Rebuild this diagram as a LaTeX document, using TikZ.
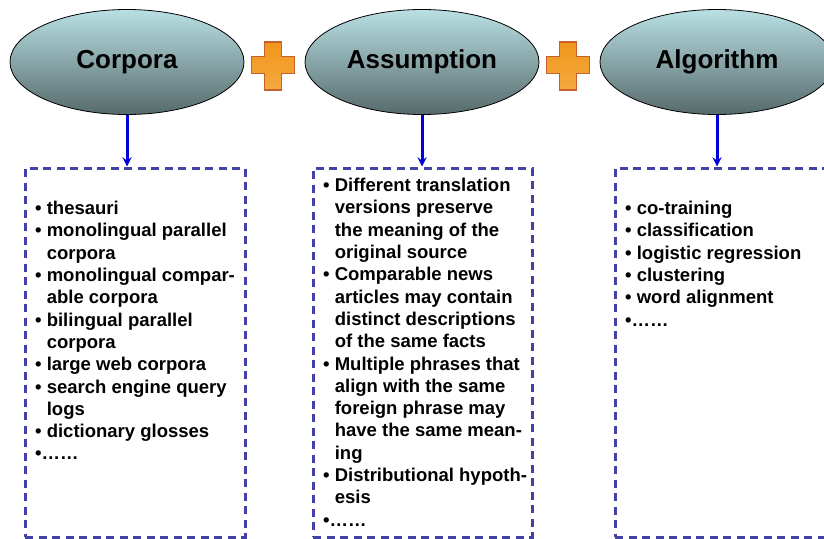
\documentclass[tikz,border=0pt]{standalone}
\usepackage{fontspec}
\setmainfont{Liberation Sans}
\usetikzlibrary{shapes.geometric,positioning}
\tikzset{>=stealth}
\definecolor{ovaltop}{HTML}{B9E0E4}
\definecolor{ovalbot}{HTML}{566A6B}
\definecolor{boxline}{HTML}{4242A4}
\definecolor{arrblue}{HTML}{0000D8}
\definecolor{plustop}{HTML}{F0961C}
\definecolor{plusmid}{HTML}{FFF0C0}
\definecolor{plusbot}{HTML}{F4AA40}
\definecolor{plusline}{HTML}{C8602C}
\tikzset{
  oval/.style={ellipse,draw=black,line width=0.8pt,minimum width=234pt,minimum height=105pt,
    inner sep=0pt,top color=ovaltop,bottom color=ovalbot,font=\fontsize{26}{30}\selectfont\bfseries},
  listbox/.style={draw=boxline,line width=3pt,dash pattern=on 8pt off 5.5pt,minimum height=369pt,inner sep=0pt},
  listtext/.style={anchor=north west,align=left,inner sep=0pt,font=\fontsize{18.5}{22.3}\selectfont\bfseries},
  link/.style={->,draw=arrblue,line width=3pt}
}
\newcommand{\bl}{\textbullet\ }
\newcommand{\ct}{\phantom{\textbullet\ }}

\begin{document}
\begin{tikzpicture}[x=1pt,y=-1pt]
\clip (0,0) rectangle (824,538);

  \node[oval] (corpora) at (127,62) {Corpora};
  \node[oval] (assume) at (422,62) {Assumption};
  \node[oval] (algo) at (717,62) {Algorithm};

  % plus signs between the ovals
  \foreach \px in {273,568}
    \draw[plusline,line width=1.2pt,top color=plustop,middle color=plusmid,bottom color=plusbot]
      (\px-8.5,42)--(\px+8.5,42)--(\px+8.5,56.5)--(\px+21.5,56.5)--(\px+21.5,73.5)--(\px+8.5,73.5)--(\px+8.5,90)
      --(\px-8.5,90)--(\px-8.5,73.5)--(\px-21.5,73.5)--(\px-21.5,56.5)--(\px-8.5,56.5)--cycle;

  \node[listbox,minimum width=220pt] (corpbox) at (135,352.5) {};
  \node[listbox,minimum width=219pt] (assumebox) at (422.5,352.5) {};
  \node[listbox,minimum width=220pt] (algobox) at (725,352.5) {};

  \draw[link] (corpora.south) -- (corpora.south |- corpbox.north);
  \draw[link] (assume.south) -- (assume.south |- assumebox.north);
  \draw[link] (algo.south) -- (algo.south |- algobox.north);

  \node[listtext] (corptext) at (35,201) {\bl thesauri\\ \bl monolingual parallel\\ \ct corpora\\
    \bl monolingual compar-\\ \ct able corpora\\ \bl bilingual parallel\\ \ct corpora\\
    \bl large web corpora\\ \bl search engine query\\ \ct logs\\ \bl dictionary glosses\\ \textbullet……};
  \node[listtext] (assumetext) at (323,178) {\bl Different translation\\ \ct versions preserve\\
    \ct the meaning of the\\ \ct original source\\ \bl Comparable news\\ \ct articles may contain\\
    \ct distinct descriptions\\ \ct of the same facts\\ \bl Multiple phrases that\\ \ct align with the same\\
    \ct foreign phrase may\\ \ct have the same mean-\\ \ct ing\\ \bl Distributional hypoth-\\ \ct esis\\ \textbullet……};
  \node[listtext] (algotext) at (625,201) {\bl co-training\\ \bl classification\\ \bl logistic regression\\
    \bl clustering\\ \bl word alignment\\ \textbullet……};

\end{tikzpicture}
\end{document}
